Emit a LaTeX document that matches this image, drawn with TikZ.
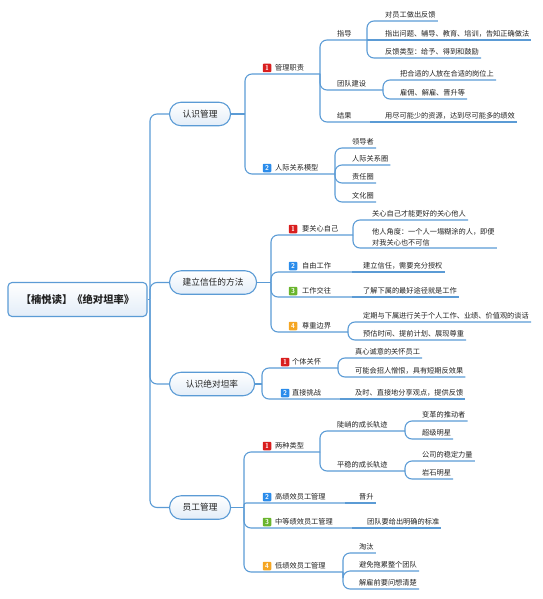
\documentclass[tikz,border=0pt]{standalone}
\usepackage{fontspec}
\newfontfamily\cjk{Noto Sans CJK SC}
\definecolor{lc}{HTML}{5B9BD5}
\definecolor{fc}{HTML}{E3EDF8}
\definecolor{tc}{HTML}{222222}
\definecolor{mka}{HTML}{D91E1E}
\definecolor{mkb}{HTML}{2B8CEB}
\definecolor{mkc}{HTML}{6AB52D}
\definecolor{mkd}{HTML}{F5A623}
\tikzset{
  conn/.style={draw=lc, line width=1.1pt, rounded corners=7pt},
  lf/.style={anchor=south west, font=\cjk\fontsize{7.2}{9}\selectfont, text=tc,
    inner xsep=2pt, inner ysep=2pt, text height=6.3pt, text depth=1.2pt},
  lftwo/.style={anchor=south west, font=\cjk\fontsize{7.2}{11}\selectfont, text=tc,
    inner xsep=2pt, inner ysep=2pt, align=left},
  lone/.style={anchor=west, draw=lc, line width=1.1pt, top color=white, bottom color=fc,
    rounded corners=11.5pt, minimum height=23.5pt, inner sep=0pt,
    font=\cjk\fontsize{8.7}{10}\selectfont, text=tc},
  rootbox/.style={draw=lc, line width=1.1pt, top color=white, bottom color=fc,
    rounded corners=4pt, minimum width=139pt, minimum height=34pt, inner sep=0pt,
    font=\cjk\bfseries\fontsize{10.3}{12}\selectfont, text=tc},
  mk/.style={minimum size=8.5pt, inner sep=0pt, rounded corners=0.8pt, text=white,
    font=\sffamily\bfseries\fontsize{7}{7}\selectfont}
}
\begin{document}
\begin{tikzpicture}[x=1pt,y=-1pt]
\useasboundingbox (0,0) rectangle (542,599);

% root
\node[rootbox] (root) at (77.5,299.5) {【楠悦读】《绝对坦率》};
\coordinate (root-b) at (150,299.5);
\draw[conn] (root.east) -- (root-b);

% level 1
\node[lone, minimum width=61pt] (A) at (169,114) {认识管理};
\node[lone, minimum width=87pt] (B) at (169,282.5) {建立信任的方法};
\node[lone, minimum width=85pt] (C) at (169,384) {认识绝对坦率};
\node[lone, minimum width=61pt] (D) at (169,507.5) {员工管理};
\draw[conn] (root-b) |- (A.west);
\draw[conn] (root-b) |- (B.west);
\draw[conn] (root-b) |- (C.west);
\draw[conn] (root-b) |- (D.west);
\coordinate (A-b) at (245,114);
\coordinate (B-b) at (271,282.5);
\coordinate (C-b) at (262,384);
\coordinate (D-b) at (244,507.5);
\draw[conn] (A.east) -- (A-b);
\draw[conn] (B.east) -- (B-b);
\draw[conn] (C.east) -- (C-b);
\draw[conn] (D.east) -- (D-b);

% ---------- A: 认识管理
\node[mk, fill=mka] (A1m) at (267,68) {1};
\node[lf] (A1) at (273,74) {管理职责};
\coordinate (A1-b) at (320,74);
\node[mk, fill=mkb] (A2m) at (267,168) {2};
\node[lf] (A2) at (273,174) {人际关系模型};
\coordinate (A2-b) at (335,174);
\draw[conn] (A-b) |- (A1-b);
\draw[conn] (A-b) |- (A2-b);

\node[lf] (A11) at (335,40) {指导};
\node[lf] (A12) at (335,90) {团队建设};
\node[lf] (A13) at (335,122) {结果};
\coordinate (A11-b) at (367,40);
\coordinate (A12-b) at (383,90);
\coordinate (A13-b) at (370,122);
\draw[conn] (A1-b) |- (A11-b);
\draw[conn] (A1-b) |- (A12-b);
\draw[conn] (A1-b) |- (A13-b);

\node[lf] (A111) at (383,21) {对员工做出反馈};
\node[lf] (A112) at (383,40) {指出问题、辅导、教育、培训，告知正确做法};
\node[lf] (A113) at (383,58) {反馈类型：给予、得到和鼓励};
\draw[conn] (A11-b) |- (A111.south east);
\draw[conn] (A11-b) -- (A112.south east);
\draw[conn] (A11-b) |- (A113.south east);

\node[lf] (A121) at (398,80) {把合适的人放在合适的岗位上};
\node[lf] (A122) at (398,99) {雇佣、解雇、晋升等};
\draw[conn] (A12-b) |- (A121.south east);
\draw[conn] (A12-b) |- (A122.south east);

\node[lf] (A131) at (383,122) {用尽可能少的资源，达到尽可能多的绩效};
\draw[conn] (A13-b) -- (A131.south east);

\node[lf] (A21) at (350,148) {领导者};
\node[lf] (A22) at (350,165) {人际关系圈};
\node[lf] (A23) at (350,183) {责任圈};
\node[lf] (A24) at (350,202) {文化圈};
\draw[conn] (A2-b) |- (A21.south east);
\draw[conn] (A2-b) |- (A22.south east);
\draw[conn] (A2-b) |- (A23.south east);
\draw[conn] (A2-b) |- (A24.south east);

% ---------- B: 建立信任的方法
\node[mk, fill=mka] (B1m) at (293,229) {1};
\node[lf] (B1) at (300,235) {要关心自己};
\node[mk, fill=mkb] (B2m) at (293,266) {2};
\node[lf] (B2) at (300,272) {自由工作};
\node[mk, fill=mkc] (B3m) at (293,291) {3};
\node[lf] (B3) at (300,297) {工作交往};
\node[mk, fill=mkd] (B4m) at (293,326) {4};
\node[lf] (B4) at (300,332) {尊重边界};
\coordinate (B1-b) at (353,235);
\coordinate (B2-b) at (352,272);
\coordinate (B3-b) at (352,297);
\coordinate (B4-b) at (348,332);
\draw[conn] (B-b) |- (B1-b);
\draw[conn] (B-b) |- (B2-b);
\draw[conn] (B-b) |- (B3-b);
\draw[conn] (B-b) |- (B4-b);

\node[lf] (B11) at (370,220) {关心自己才能更好的关心他人};
\node[lftwo] (B12) at (370,248) {他人角度：一个人一塌糊涂的人，即便\\对我关心也不可信};
\draw[conn] (B1-b) |- (B11.south east);
\draw[conn] (B1-b) |- (B12.south east);
\node[lf] (B21) at (361,272) {建立信任，需要充分授权};
\draw[conn] (B2-b) -- (B21.south east);
\node[lf] (B31) at (361,297) {了解下属的最好途径就是工作};
\draw[conn] (B3-b) -- (B31.south east);
\node[lf] (B41) at (361,322) {定期与下属进行关于个人工作、业绩、价值观的谈话};
\node[lf] (B42) at (361,340) {预估时间、提前计划、展现尊重};
\draw[conn] (B4-b) |- (B41.south east);
\draw[conn] (B4-b) |- (B42.south east);

% ---------- C: 认识绝对坦率
\node[mk, fill=mka] (C1m) at (285,362) {1};
\node[lf] (C1) at (290,368) {个体关怀};
\node[mk, fill=mkb] (C2m) at (285,393) {2};
\node[lf] (C2) at (290,399) {直接挑战};
\coordinate (C1-b) at (338,368);
\coordinate (C2-b) at (340,399);
\draw[conn] (C-b) |- (C1-b);
\draw[conn] (C-b) |- (C2-b);
\node[lf] (C11) at (353,358) {真心诚意的关怀员工};
\node[lf] (C12) at (353,377) {可能会招人憎恨，具有短期反效果};
\draw[conn] (C1-b) |- (C11.south east);
\draw[conn] (C1-b) |- (C12.south east);
\node[lf] (C21) at (353,399) {及时、直接地分享观点，提供反馈};
\draw[conn] (C2-b) -- (C21.south east);

% ---------- D: 员工管理
\node[mk, fill=mka] (D1m) at (267,446) {1};
\node[lf] (D1) at (273,452) {两种类型};
\node[mk, fill=mkb] (D2m) at (267,497) {2};
\node[lf] (D2) at (273,503) {高绩效员工管理};
\node[mk, fill=mkc] (D3m) at (267,522) {3};
\node[lf] (D3) at (273,528) {中等绩效员工管理};
\node[mk, fill=mkd] (D4m) at (267,566) {4};
\node[lf] (D4) at (273,572) {低绩效员工管理};
\coordinate (D1-b) at (320,452);
\coordinate (D2-b) at (345,503);
\coordinate (D3-b) at (352,528);
\coordinate (D4-b) at (343,572);
\draw[conn] (D-b) |- (D1-b);
\draw[conn, rounded corners=2pt] (D-b) |- (D2-b);
\draw[conn] (D-b) |- (D3-b);
\draw[conn] (D-b) |- (D4-b);

\node[lf] (D11) at (335,431) {陡峭的成长轨迹};
\node[lf] (D12) at (335,471) {平稳的成长轨迹};
\coordinate (D11-b) at (405,431);
\coordinate (D12-b) at (405,471);
\draw[conn] (D1-b) |- (D11-b);
\draw[conn] (D1-b) |- (D12-b);
\node[lf] (D111) at (420,421) {变革的推动者};
\node[lf] (D112) at (420,439) {超级明星};
\draw[conn] (D11-b) |- (D111.south east);
\draw[conn] (D11-b) |- (D112.south east);
\node[lf] (D121) at (420,461) {公司的稳定力量};
\node[lf] (D122) at (420,479) {岩石明星};
\draw[conn] (D12-b) |- (D121.south east);
\draw[conn] (D12-b) |- (D122.south east);

\node[lf] (D21) at (357,503) {晋升};
\draw[conn] (D2-b) -- (D21.south east);
\node[lf] (D31) at (365,528) {团队要给出明确的标准};
\draw[conn] (D3-b) -- (D31.south east);
\node[lf] (D41) at (357,553) {淘汰};
\node[lf] (D42) at (357,571) {避免拖累整个团队};
\node[lf] (D43) at (357,589) {解雇前要问想清楚};
\draw[conn] (D4-b) |- (D41.south east);
\draw[conn] (D4-b) |- (D42.south east);
\draw[conn] (D4-b) |- (D43.south east);
\end{tikzpicture}
\end{document}
